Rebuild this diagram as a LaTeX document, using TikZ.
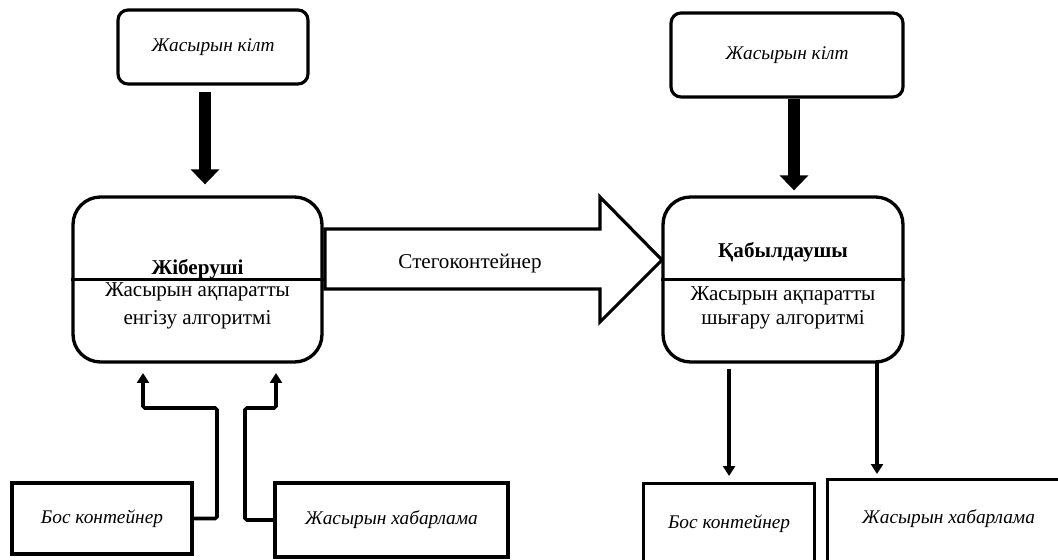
\documentclass[tikz,border=0pt]{standalone}
\usepackage{fontspec}
\setmainfont{Liberation Serif}
\usetikzlibrary{arrows.meta}

\newcommand{\diagfont}{\fontsize{12pt}{14pt}\selectfont}
\newcommand{\boxfont}{\fontsize{11pt}{13pt}\selectfont\itshape}

\tikzset{
  keybox/.style={draw, line width=1.8pt, rounded corners=0.2cm, font=\boxfont},
  mainbox/.style={draw, line width=1.9pt, rounded corners=0.55cm},
  databox/.style={draw, line width=1.8pt, font=\boxfont, inner sep=0.1cm},
  keyarrow/.style={line width=7pt, -{Triangle[width=0.56cm, length=0.3cm]}},
  conn/.style={line width=2pt, -{Triangle[width=0.24cm, length=0.2cm]}},
}

\begin{document}
\begin{tikzpicture}[x = 0.02cm, y = -0.02cm, font=\diagfont]
	\path[use as bounding box, clip] (0, 0) rectangle (1058, 560);

	% Nodes
	\node[keybox, minimum width=3.8cm, minimum height=1.48cm] (keyL) at (213, 47) {Жасырын кілт};
	\node[keybox, minimum width=4.64cm, minimum height=1.68cm] (keyR) at (787, 55) {Жасырын кілт};

	\node[mainbox, minimum width=4.98cm, minimum height=3.3cm] (sender) at (197.5, 279.5) {};
	\node[font=\diagfont\bfseries] (senderTitle) at (197.5, 269) {Жіберуші};
	\node[align=center, font=\fontsize{12pt}{16pt}\selectfont] (senderAlgo) at (197.5, 306) {Жасырын ақпаратты\\енгізу алгоритмі};

	\node[mainbox, minimum width=4.8cm, minimum height=3.3cm] (receiver) at (783, 279.5) {};
	\node[font=\diagfont\bfseries] (receiverTitle) at (783, 252) {Қабылдаушы};
	\node[align=center, font=\fontsize{12pt}{13.5pt}\selectfont] (receiverAlgo) at (783, 308) {Жасырын ақпаратты\\шығару алгоритмі};

	\node[databox, minimum width=3.6cm, minimum height=1.42cm] (bosL) at (102, 518.5) {Бос контейнер};
	\node[databox, minimum width=4.66cm, minimum height=1.48cm] (habL) at (391.5, 520) {Жасырын хабарлама};
	\node[databox, anchor=north west, minimum width=3.42cm, text height=0.8cm, text depth=1cm] (bosR) at (642, 482) {Бос контейнер};
	\node[databox, anchor=north west, minimum width=4.84cm, text height=0.78cm, text depth=1cm] (habR) at (826, 478) {Жасырын хабарлама};

	\coordinate (keyOutL) at ([xshift=-0.16cm]keyL.south);
	\coordinate (keyOutR) at ([xshift=0.14cm]keyR.south);
	\coordinate (inBos) at (143, 373);
	\coordinate (inHab) at (276, 373);
	\coordinate (outHab) at (877, 363);

	% Dividers
	\draw[line width=1.3pt] (sender.west) -- (sender.east);
	\draw[line width=1.3pt] (receiver.west) -- (receiver.east);

	% Stegocontainer
	\draw[line width=1.8pt, line join=miter] (325, 229) -- (600, 229) -- (600, 197) -- (662, 260)
		-- (600, 322) -- (600, 289) -- (325, 289) -- cycle;
	\node (stego) at (470, 264) {Стегоконтейнер};

	% Edges
	\draw[keyarrow, shorten <=0.12cm, shorten >=0.22cm] (keyOutL) -- (keyOutL |- sender.north);
	\draw[keyarrow, shorten >=0.1cm] (keyOutR) -- (keyOutR |- receiver.north);
	\draw[conn, rounded corners=1pt] (bosL.east) -| (217, 408) -| (inBos);
	\draw[conn, rounded corners=1pt] (habL.west) -| (245, 408) -| (inHab);
	\draw[conn, shorten <=0.1cm, shorten >=0.12cm] (receiver.south -| bosR.north) -- (bosR.north);
	\draw[conn, shorten >=0.08cm] (outHab) -- (outHab |- habR.north);
\end{tikzpicture}
\end{document}
